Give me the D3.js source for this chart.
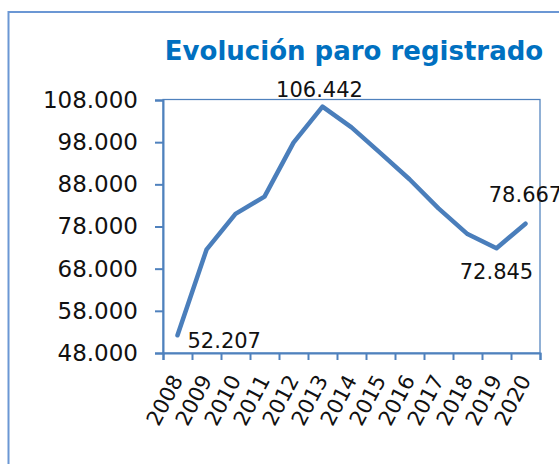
<!DOCTYPE html>
<html>
<head>
<meta charset="utf-8">
<script src="https://cdn.jsdelivr.net/npm/d3@7"></script>
<style>
  html, body { margin: 0; padding: 0; background: #fff; }
  svg { display: block; font-family: "DejaVu Sans", Verdana, sans-serif; }
</style>
</head>
<body>
<div id="chart"></div>
<script>
// data
const years = ['2008', '2009', '2010', '2011', '2012', '2013', '2014',
               '2015', '2016', '2017', '2018', '2019', '2020'];
const paro = [52207, 72500, 81000, 85100, 97900, 106442, 101500,
              95400, 89200, 82300, 76200, 72845, 78667];
const yTicks = [48000, 58000, 68000, 78000, 88000, 98000, 108000];
const title = 'Evolución paro registrado';

{
	const W = 559, H = 464;
	const plot = { left: 163, right: 540, top: 100, bottom: 353 };
	const blue = '#4f81bd';

	// which points carry a value label, and where
	const labelPos = {
		'2008': { anchor: 'start', dx: 10, dy: 13 },
		'2013': { anchor: 'middle', dx: -3, dy: -10 },
		'2019': { anchor: 'middle', dx: 0, dy: 31 },
		'2020': { anchor: 'middle', dx: 0, dy: -22 }
	};

	const es = d3.formatLocale({ decimal: ',', thousands: '.', grouping: [3], currency: ['', ' €'] });
	const fmt = es.format(',d');

	const svg = d3.select('#chart').append('svg')
		.attr('width', W)
		.attr('height', H);

	svg.append('rect')
		.attr('width', W).attr('height', H)
		.attr('fill', '#fff');

	// outer chart border (runs off the right and bottom)
	svg.append('rect')
		.attr('x', 8.5).attr('y', 12)
		.attr('width', 600).attr('height', 500)
		.attr('fill', 'none')
		.attr('stroke', '#6b97d4')
		.attr('stroke-width', 2);

	svg.append('text')
		.attr('x', 354).attr('y', 60)
		.attr('text-anchor', 'middle')
		.attr('font-size', 26)
		.attr('font-weight', 'bold')
		.attr('fill', '#0070c0')
		.text(title);

	const x = d3.scaleBand()
		.domain(years)
		.range([plot.left, plot.right])
		.padding(0);

	const xEdge = d3.scaleLinear()
		.domain([0, years.length])
		.range([plot.left, plot.right]);

	const y = d3.scaleLinear()
		.domain([48000, 108000])
		.range([plot.bottom, plot.top]);

	const cx = d => x(d) + x.bandwidth() / 2;

	// plot frame
	svg.append('rect')
		.attr('x', plot.left).attr('y', plot.top - 0.5)
		.attr('width', plot.right - plot.left)
		.attr('height', plot.bottom - plot.top + 0.5)
		.attr('fill', 'none')
		.attr('stroke', blue)
		.attr('stroke-width', 1.25);

	// y axis
	const gy = svg.append('g')
		.attr('transform', `translate(${plot.left},0)`)
		.call(d3.axisLeft(y).tickValues(yTicks).tickSize(8).tickPadding(17).tickFormat(fmt));
	gy.select('.domain').attr('stroke', blue).attr('stroke-width', 2);
	gy.selectAll('.tick line').attr('stroke', blue).attr('stroke-width', 2);
	gy.selectAll('.tick text')
		.attr('font-size', 23)
		.attr('font-family', '"DejaVu Sans", Verdana, sans-serif')
		.attr('fill', '#111');

	// x axis: tick marks sit on category edges
	const gxEdge = svg.append('g')
		.attr('transform', `translate(0,${plot.bottom})`)
		.call(d3.axisBottom(xEdge).tickValues(d3.range(years.length + 1)).tickSize(7).tickFormat(''));
	gxEdge.select('.domain').attr('stroke', blue).attr('stroke-width', 2);
	gxEdge.selectAll('.tick line').attr('stroke', blue).attr('stroke-width', 2);

	// x labels, rotated
	const gx = svg.append('g')
		.attr('transform', `translate(0,${plot.bottom})`)
		.call(d3.axisBottom(x).tickSize(0).tickPadding(0));
	gx.select('.domain').remove();
	gx.selectAll('.tick text')
		.attr('font-size', 21)
		.attr('font-family', '"DejaVu Sans", Verdana, sans-serif')
		.attr('fill', '#111')
		.attr('text-anchor', 'end')
		.attr('dy', null)
		.attr('y', null)
		.attr('transform', 'translate(6,27) rotate(-62)');

	// the line
	const line = d3.line()
		.x((d, i) => cx(years[i]))
		.y(d => y(d));

	svg.append('path')
		.datum(paro)
		.attr('d', line)
		.attr('fill', 'none')
		.attr('stroke', '#4a7ebb')
		.attr('stroke-width', 4.5)
		.attr('stroke-linejoin', 'round')
		.attr('stroke-linecap', 'round');

	// value labels
	const labelled = years
		.map((yr, i) => ({ yr, v: paro[i] }))
		.filter(d => labelPos[d.yr]);

	svg.append('g').selectAll('text')
		.data(labelled)
		.enter().append('text')
			.attr('x', d => cx(d.yr) + labelPos[d.yr].dx)
			.attr('y', d => y(d.v) + labelPos[d.yr].dy)
			.attr('text-anchor', d => labelPos[d.yr].anchor)
			.attr('font-size', 21)
			.attr('fill', '#111')
			.text(d => fmt(d.v));
}
</script>
</body>
</html>
